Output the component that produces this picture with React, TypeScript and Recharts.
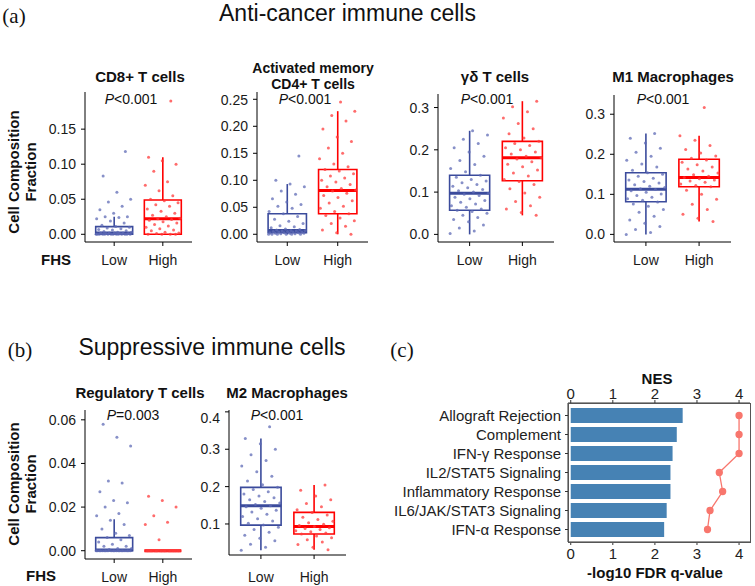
import React from 'react';
import {
  ComposedChart,
  Scatter,
  XAxis,
  YAxis,
  ReferenceArea,
  ReferenceLine,
  Bar,
  Line,
} from 'recharts';

const FONT = '"Liberation Sans", Arial, Helvetica, sans-serif';
const SERIF = '"Liberation Serif", "Times New Roman", serif';
const LOW_BOX = '#3B4B9C';
const LOW_DOT = '#5F6BB5';
const HIGH_BOX = '#FF0000';
const HIGH_DOT = '#FF3B3B';

// box stats: [lower whisker, q1, median, q3, upper whisker]
type BoxStats = [number, number, number, number, number];

const groups = ['Low', 'High'];

// CD8+ T cells
const cd8Low = [0, 0, 0, 0, 0, 0, 0, 0, 0, 0, 0, 0, 0, 0, 0.001, 0.001, 0.001, 0.002, 0.002, 0.002, 0.002, 0.003, 0.003, 0.004, 0.005, 0.006, 0.007, 0.008, 0.009, 0.01, 0.011, 0.013, 0.016, 0.019, 0.022, 0.024, 0.025, 0.025, 0.03, 0.035, 0.04, 0.046, 0.05, 0.06, 0.083, 0.118];
const cd8High = [0, 0, 0, 0, 0.001, 0.002, 0.003, 0.005, 0.006, 0.008, 0.01, 0.012, 0.014, 0.016, 0.018, 0.02, 0.021, 0.022, 0.023, 0.025, 0.027, 0.03, 0.033, 0.036, 0.04, 0.042, 0.045, 0.048, 0.05, 0.055, 0.062, 0.07, 0.075, 0.09, 0.1, 0.105, 0.11, 0.19];
const cd8LowBox: BoxStats = [0, 0, 0.002, 0.011, 0.025];
const cd8HighBox: BoxStats = [0, 0, 0.022, 0.049, 0.11];

// Activated memory CD4+ T cells
const cd4Low = [0, 0, 0, 0, 0, 0, 0.001, 0.001, 0.002, 0.002, 0.002, 0.003, 0.003, 0.003, 0.004, 0.004, 0.004, 0.005, 0.005, 0.006, 0.006, 0.007, 0.007, 0.008, 0.009, 0.01, 0.012, 0.014, 0.016, 0.02, 0.024, 0.028, 0.033, 0.038, 0.042, 0.048, 0.052, 0.055, 0.06, 0.066, 0.074, 0.08, 0.088, 0.093, 0.1, 0.145];
const cd4High = [0, 0.003, 0.008, 0.015, 0.02, 0.025, 0.03, 0.035, 0.038, 0.042, 0.048, 0.052, 0.058, 0.062, 0.068, 0.072, 0.076, 0.08, 0.082, 0.085, 0.088, 0.092, 0.097, 0.1, 0.104, 0.108, 0.112, 0.117, 0.12, 0.125, 0.13, 0.14, 0.15, 0.16, 0.172, 0.18, 0.195, 0.21, 0.22, 0.228, 0.245];
const cd4LowBox: BoxStats = [0, 0.003, 0.007, 0.038, 0.093];
const cd4HighBox: BoxStats = [0, 0.038, 0.081, 0.12, 0.228];

// γδ T cells
const gdLow = [0.002, 0.008, 0.015, 0.022, 0.03, 0.035, 0.04, 0.045, 0.05, 0.054, 0.057, 0.06, 0.064, 0.068, 0.072, 0.076, 0.08, 0.084, 0.088, 0.092, 0.095, 0.097, 0.1, 0.103, 0.106, 0.11, 0.114, 0.118, 0.122, 0.126, 0.13, 0.135, 0.14, 0.148, 0.156, 0.165, 0.175, 0.185, 0.195, 0.205, 0.215, 0.225, 0.235, 0.245];
const gdHigh = [0.045, 0.052, 0.06, 0.068, 0.078, 0.088, 0.098, 0.108, 0.118, 0.125, 0.13, 0.138, 0.145, 0.152, 0.16, 0.166, 0.172, 0.178, 0.181, 0.185, 0.19, 0.195, 0.2, 0.205, 0.21, 0.215, 0.22, 0.228, 0.238, 0.25, 0.262, 0.275, 0.29, 0.302, 0.315];
const gdLowBox: BoxStats = [0, 0.057, 0.097, 0.14, 0.245];
const gdHighBox: BoxStats = [0.045, 0.127, 0.181, 0.22, 0.315];

// M1 Macrophages
const m1Low = [0, 0.005, 0.012, 0.02, 0.028, 0.036, 0.045, 0.055, 0.062, 0.07, 0.076, 0.081, 0.085, 0.089, 0.093, 0.097, 0.101, 0.105, 0.109, 0.112, 0.114, 0.117, 0.12, 0.124, 0.128, 0.132, 0.136, 0.14, 0.145, 0.15, 0.154, 0.16, 0.168, 0.176, 0.185, 0.195, 0.205, 0.215, 0.228, 0.24, 0.252];
const m1High = [0.032, 0.04, 0.05, 0.062, 0.075, 0.088, 0.1, 0.11, 0.119, 0.122, 0.126, 0.13, 0.133, 0.136, 0.139, 0.142, 0.145, 0.149, 0.153, 0.158, 0.163, 0.168, 0.174, 0.18, 0.186, 0.19, 0.196, 0.203, 0.212, 0.222, 0.235, 0.246, 0.317];
const m1LowBox: BoxStats = [0, 0.0815, 0.113, 0.154, 0.252];
const m1HighBox: BoxStats = [0.032, 0.119, 0.142, 0.1875, 0.246];

// Regulatory T cells
const tregLow = [0, 0, 0, 0, 0, 0, 0, 0, 0, 0, 0, 0, 0, 0, 0, 0, 0, 0, 0, 0, 0.0005, 0.001, 0.001, 0.002, 0.002, 0.003, 0.004, 0.005, 0.006, 0.007, 0.008, 0.01, 0.012, 0.014, 0.016, 0.017, 0.02, 0.022, 0.023, 0.027, 0.031, 0.032, 0.048, 0.052, 0.058];
const tregHigh = [0, 0, 0, 0, 0, 0, 0, 0, 0, 0, 0, 0, 0, 0, 0, 0, 0, 0, 0, 0, 0, 0, 0, 0, 0, 0, 0, 0, 0, 0, 0.005, 0.012, 0.013, 0.016, 0.02, 0.023, 0.025];
const tregLowBox: BoxStats = [0, 0, 0.0003, 0.006, 0.0144];
const tregHighBox: BoxStats = [0, 0, 0, 0, 0];

// M2 Macrophages
const m2Low = [0.03, 0.038, 0.046, 0.055, 0.062, 0.07, 0.078, 0.085, 0.091, 0.097, 0.102, 0.108, 0.114, 0.12, 0.126, 0.132, 0.137, 0.142, 0.146, 0.149, 0.152, 0.156, 0.16, 0.165, 0.17, 0.175, 0.18, 0.186, 0.192, 0.198, 0.205, 0.215, 0.228, 0.24, 0.255, 0.27, 0.285, 0.3, 0.315, 0.329, 0.36];
const m2High = [0.031, 0.038, 0.045, 0.052, 0.058, 0.063, 0.068, 0.073, 0.076, 0.079, 0.082, 0.085, 0.088, 0.09, 0.093, 0.096, 0.099, 0.103, 0.107, 0.112, 0.118, 0.124, 0.131, 0.138, 0.146, 0.155, 0.165, 0.175, 0.19, 0.204];
const m2LowBox: BoxStats = [0.03, 0.097, 0.149, 0.198, 0.329];
const m2HighBox: BoxStats = [0.031, 0.073, 0.093, 0.131, 0.204];

// GSEA panel (c)
const hallmarks = ['Allograft Rejection', 'Complement', 'IFN-γ Response', 'IL2/STAT5 Signaling', 'Inflammatory Response', 'IL6/JAK/STAT3 Signaling', 'IFN-α Response'];
const nesValues = [2.66, 2.52, 2.42, 2.37, 2.37, 2.28, 2.22];
const fdrValues = [4.0, 4.0, 4.0, 3.53, 3.61, 3.31, 3.25];
const gseaTicks = [0, 1, 2, 3, 4];

const gseaRows = hallmarks.map((name, i) => ({ name, nes: nesValues[i], fdr: fdrValues[i] }));

// spreads the dots sideways inside a box (display only)
const jitter = (i: number) => (((i * 0.6180339) % 1) - 0.5) * 0.74;

const Y_W = 60;
const X_H = 34;

interface PanelProps {
  left: number;
  top: number;
  width: number;
  height: number;
  domain: [number, number];
  ticks: number[];
  digits: number;
  low: number[];
  high: number[];
  lowBox: BoxStats;
  highBox: BoxStats;
  xMargin?: number;
}

const Dot = (color: string) => (props: any) => (
  <circle cx={props.cx} cy={props.cy} r={1.5} fill={color} fillOpacity={0.75} />
);

const boxParts = (pos: number, s: BoxStats, color: string, key: string) => {
  const [lo, q1, med, q3, hi] = s;
  const hw = 0.38;
  return [
    <ReferenceLine key={key + 'w1'} segment={[{ x: pos, y: lo }, { x: pos, y: q1 }]} stroke={color} strokeWidth={1.6} ifOverflow="visible" />,
    <ReferenceLine key={key + 'w2'} segment={[{ x: pos, y: q3 }, { x: pos, y: hi }]} stroke={color} strokeWidth={1.6} ifOverflow="visible" />,
    <ReferenceArea key={key + 'b'} x1={pos - hw} x2={pos + hw} y1={q1} y2={q3} fill="none" stroke={color} strokeWidth={1.6} ifOverflow="visible" />,
    <ReferenceLine key={key + 'm'} segment={[{ x: pos - hw, y: med }, { x: pos + hw, y: med }]} stroke={color} strokeWidth={3} ifOverflow="visible" />,
  ];
};

const BoxPanel: React.FC<PanelProps> = ({ left, top, width, height, domain, ticks, digits, low, high, lowBox, highBox, xMargin = 9 }) => {
  const lowPts = low.map((y, i) => ({ x: 1 + jitter(i), y }));
  const highPts = high.map((y, i) => ({ x: 2 + jitter(i + 3), y }));
  return (
    <div style={{ position: 'absolute', left: left - Y_W, top }}>
      <ComposedChart width={Y_W + width + 2} height={height + X_H} margin={{ top: 0, right: 2, left: 0, bottom: 0 }}>
        <XAxis
          type="number"
          dataKey="x"
          domain={[0.4, 2.6]}
          ticks={[1, 2]}
          allowDataOverflow
          tickFormatter={(v: number) => groups[v - 1]}
          height={X_H}
          stroke="#000"
          tickSize={4}
          tickMargin={xMargin}
          tick={{ fontSize: 14, fill: '#1a1a1a', fontFamily: FONT }}
        />
        <YAxis
          type="number"
          dataKey="y"
          domain={domain}
          ticks={ticks}
          allowDataOverflow
          width={Y_W}
          tickFormatter={(v: number) => v.toFixed(digits)}
          stroke="#000"
          tickSize={4}
          tickMargin={5}
          tick={{ fontSize: 14, fill: '#1a1a1a', fontFamily: FONT }}
        />
        <Scatter data={lowPts} shape={Dot(LOW_DOT)} isAnimationActive={false} />
        <Scatter data={highPts} shape={Dot(HIGH_DOT)} isAnimationActive={false} />
        {boxParts(1, lowBox, LOW_BOX, 'l')}
        {boxParts(2, highBox, HIGH_BOX, 'h')}
      </ComposedChart>
    </div>
  );
};

const T: React.FC<{ x: number; y: number; size?: number; lh?: number; bold?: boolean; serif?: boolean; children: React.ReactNode }> = ({ x, y, size = 15, lh, bold, serif, children }) => {
  const lineH = lh ?? size * 1.15;
  return (
    <div
      style={{
        position: 'absolute',
        left: x - 150,
        top: y - 0.56 * size - (lineH - size * 1.15) / 2,
        width: 300,
        textAlign: 'center',
        fontSize: size,
        lineHeight: `${lineH}px`,
        fontWeight: bold ? 'bold' : 'normal',
        fontFamily: serif ? SERIF : FONT,
        color: '#111',
        whiteSpace: 'nowrap',
      }}
    >
      {children}
    </div>
  );
};

const Pval: React.FC<{ x: number; y: number; op: string; v: string }> = ({ x, y, op, v }) => (
  <T x={x} y={y} size={14}>
    <i>P</i>
    {op}
    {v}
  </T>
);

const YLabel: React.FC<{ x: number; y: number }> = ({ x, y }) => (
  <div
    style={{
      position: 'absolute',
      left: x - 90,
      top: y - 17,
      width: 180,
      height: 34,
      transform: 'rotate(-90deg)',
      textAlign: 'center',
      fontFamily: FONT,
      fontWeight: 'bold',
      fontSize: 15,
      lineHeight: '17px',
      color: '#111',
    }}
  >
    Cell Composition
    <br />
    Fraction
  </div>
);

const App: React.FC = () => {
  return (
    <div style={{ position: 'absolute', left: 0, top: 0, width: 755, height: 586, background: '#fff', overflow: 'hidden' }}>
      <T x={14} y={16} size={21} serif>(a)</T>
      <T x={347.5} y={12.5} size={23}>Anti-cancer immune cells</T>

      <T x={140} y={76} bold>CD8+ T cells</T>
      <T x={313} y={68} bold size={14} lh={16}>Activated memory<br />CD4+ T cells</T>
      <T x={495} y={76} bold>γδ T cells</T>
      <T x={673} y={76} bold>M1 Macrophages</T>

      <Pval x={131} y={99} op="<" v="0.001" />
      <Pval x={305} y={99} op="<" v="0.001" />
      <Pval x={487} y={99} op="<" v="0.001" />
      <Pval x={663} y={99} op="<" v="0.001" />

      <YLabel x={22} y={172} />
      <T x={56} y={259} bold>FHS</T>

      <BoxPanel left={85} top={92} width={107} height={150} domain={[-0.011, 0.203]} ticks={[0, 0.05, 0.1, 0.15]} digits={2} low={cd8Low} high={cd8High} lowBox={cd8LowBox} highBox={cd8HighBox} />
      <BoxPanel left={257} top={92} width={111} height={150} domain={[-0.0143, 0.2635]} ticks={[0, 0.05, 0.1, 0.15, 0.2, 0.25]} digits={2} low={cd4Low} high={cd4High} lowBox={cd4LowBox} highBox={cd4HighBox} />
      <BoxPanel left={438} top={94} width={116} height={148} domain={[-0.018, 0.332]} ticks={[0, 0.1, 0.2, 0.3]} digits={1} low={gdLow} high={gdHigh} lowBox={gdLowBox} highBox={gdHighBox} />
      <BoxPanel left={614} top={95} width={117} height={147} domain={[-0.019, 0.348]} ticks={[0, 0.1, 0.2, 0.3]} digits={1} low={m1Low} high={m1High} lowBox={m1LowBox} highBox={m1HighBox} />

      <T x={20} y={350} size={21} serif>(b)</T>
      <T x={212} y={347} size={23}>Suppressive immune cells</T>
      <T x={402} y={350} size={21} serif>(c)</T>

      <T x={140} y={392} bold>Regulatory T cells</T>
      <T x={287} y={392} bold>M2 Macrophages</T>
      <Pval x={133} y={415} op="=" v="0.003" />
      <Pval x={277} y={415} op="<" v="0.001" />

      <YLabel x={22} y={484} />
      <T x={41} y={575} bold>FHS</T>

      <BoxPanel left={85} top={410} width={107} height={149} domain={[-0.0038, 0.0645]} ticks={[0, 0.02, 0.04, 0.06]} digits={2} low={tregLow} high={tregHigh} lowBox={tregLowBox} highBox={tregHighBox} />
      <BoxPanel left={229} top={410} width={117} height={145} domain={[0.017, 0.405]} ticks={[0.1, 0.2, 0.3, 0.4]} digits={1} low={m2Low} high={m2High} lowBox={m2LowBox} highBox={m2HighBox} xMargin={13} />

      <T x={657} y={378} bold>NES</T>
      <T x={655} y={572} bold>-log10 FDR q-value</T>

      <div style={{ position: 'absolute', left: 368, top: 378 }}>
        <ComposedChart
          layout="vertical"
          width={200 + 182 + 4}
          height={25 + 139 + 25}
          data={gseaRows}
          margin={{ top: 0, right: 4, left: 0, bottom: 0 }}
        >
          <XAxis xAxisId="nes" type="number" orientation="top" domain={[-0.065, 4.26]} ticks={gseaTicks} allowDataOverflow height={25} stroke="#333" tickSize={3} tickMargin={1} tick={{ fontSize: 15, fill: '#222', fontFamily: FONT }} />
          <XAxis xAxisId="fdr" type="number" orientation="bottom" domain={[-0.065, 4.26]} ticks={gseaTicks} allowDataOverflow height={25} stroke="#333" tickSize={3} tickMargin={3} tick={{ fontSize: 15, fill: '#222', fontFamily: FONT }} />
          <YAxis type="category" dataKey="name" width={200} padding={{ top: 3, bottom: 3 }} stroke="#333" tickSize={3} tickMargin={4} interval={0} tick={{ fontSize: 15, fill: '#222', fontFamily: FONT }} />
          <Bar xAxisId="nes" dataKey="nes" fill="#4682B4" barSize={15} isAnimationActive={false} />
          <Line xAxisId="fdr" dataKey="fdr" stroke="#F8766D" strokeWidth={1.3} dot={{ r: 3, fill: '#F8766D', stroke: '#F8766D' }} isAnimationActive={false} />
        </ComposedChart>
      </div>
      <div style={{ position: 'absolute', left: 568, top: 403, width: 181, height: 138, border: '1px solid #555', pointerEvents: 'none' }} />
    </div>
  );
};

export default App;
